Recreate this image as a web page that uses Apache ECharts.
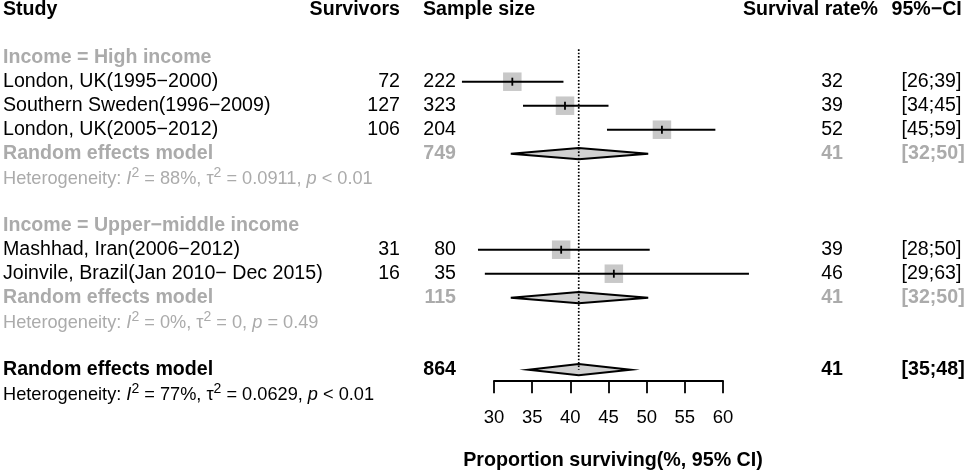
<!DOCTYPE html>
<html><head><meta charset="utf-8">
<script src="https://cdn.jsdelivr.net/npm/echarts@6/dist/echarts.min.js"></script>
<style>html,body{margin:0;padding:0;background:#fff}#c{width:976px;height:474px}</style>
</head><body><div id="c"></div>
<script>
// ---------- data ----------
const headers = ["Study", "Survivors", "Sample size", "Survival rate%", "95%−CI"];
const subgroups = ["Income = High income", "Income = Upper−middle income"];
const studies = ["London, UK(1995−2000)", "Southern Sweden(1996−2009)", "London, UK(2005−2012)",
                 "Mashhad, Iran(2006−2012)", "Joinvile, Brazil(Jan 2010− Dec 2015)"];
const studyGroup = [0, 0, 0, 1, 1];
const survivors = [72, 127, 106, 31, 16];
const sampleSize = [222, 323, 204, 80, 35];
const estimate = [32.4, 39.3, 52.0, 38.8, 45.7];
const lower = [25.8, 33.8, 44.8, 27.9, 28.8];
const upper = [39.1, 45.0, 59.0, 50.4, 63.4];
const modelName = "Random effects model";
const groupN = [749, 115];
const groupEst = [41.1, 41.1];
const groupLower = [32.2, 32.2];
const groupUpper = [50.2, 50.2];
const groupI2 = ["88%", "0%"];
const groupTau2 = ["0.0911", "0"];
const groupP = ["< 0.01", "= 0.49"];
const overallN = 864;
const overallEst = 41.1;
const overallLower = 34.5;
const overallUpper = 47.9;
const overallI2 = "77%";
const overallTau2 = "0.0629";
const overallP = "< 0.01";
const xTicks = [30, 35, 40, 45, 50, 55, 60];
const axisTitle = "Proportion surviving(%, 95% CI)";

// ---------- layout / style ----------
const FONT = '"Liberation Sans", Arial, sans-serif';
const GRAY = '#ababab';
const FS = 19.6, FSH = 18.2;
const X_STUDY = 3, X_SURV = 400, X_SAMPLE = 456, X_RATE = 843, X_CI = 901.5;
const HEAD_POS = [[3, 'left'], [400, 'right'], [423, 'left'], [878, 'right'], [891.5, 'left']];

// build rows
const texts = [];
const studyMarks = [];
const diamondMarks = [];
function fmtCI(lo, hi) { return '[' + Math.round(lo) + ';' + Math.round(hi) + ']'; }
function hetText(i2, t2, p) {
  return '{n|Heterogeneity: }{i|I}{s|2}{n| = ' + i2 + ', τ}{s|2}{n| = ' + t2 + ', }{i|p}{n| ' + p + '}';
}
headers.forEach((h, k) => texts.push({row: -2, x: HEAD_POS[k][0], align: HEAD_POS[k][1], text: h, color: '#000', bold: true}));
let r = 0;
subgroups.forEach((g, gi) => {
  texts.push({row: r, x: X_STUDY, align: 'left', text: g, color: GRAY, bold: true});
  r++;
  studies.forEach((s, i) => {
    if (studyGroup[i] !== gi) return;
    texts.push({row: r, x: X_STUDY, align: 'left', text: s, color: '#000'});
    texts.push({row: r, x: X_SURV, align: 'right', text: String(survivors[i]), color: '#000'});
    texts.push({row: r, x: X_SAMPLE, align: 'right', text: String(sampleSize[i]), color: '#000'});
    texts.push({row: r, x: X_RATE, align: 'right', text: String(Math.round(estimate[i])), color: '#000'});
    texts.push({row: r, x: X_CI, align: 'left', text: fmtCI(lower[i], upper[i]), color: '#000'});
    studyMarks.push([lower[i], upper[i], estimate[i], r]);
    r++;
  });
  texts.push({row: r, x: X_STUDY, align: 'left', text: modelName, color: GRAY, bold: true});
  texts.push({row: r, x: X_SAMPLE, align: 'right', text: String(groupN[gi]), color: GRAY, bold: true});
  texts.push({row: r, x: X_RATE, align: 'right', text: String(Math.round(groupEst[gi])), color: GRAY, bold: true});
  texts.push({row: r, x: X_CI, align: 'left', text: fmtCI(groupLower[gi], groupUpper[gi]), color: GRAY, bold: true});
  diamondMarks.push([groupLower[gi], groupUpper[gi], groupEst[gi], r]);
  r++;
  texts.push({row: r, x: X_STUDY, align: 'left', rich: hetText(groupI2[gi], groupTau2[gi], groupP[gi]), color: GRAY});
  r++;
  r++;
});
const overallRow = r;
texts.push({row: r, x: X_STUDY, align: 'left', text: modelName, color: '#000', bold: true});
texts.push({row: r, x: X_SAMPLE, align: 'right', text: String(overallN), color: '#000', bold: true});
texts.push({row: r, x: X_RATE, align: 'right', text: String(Math.round(overallEst)), color: '#000', bold: true});
texts.push({row: r, x: X_CI, align: 'left', text: fmtCI(overallLower, overallUpper), color: '#000', bold: true});
diamondMarks.push([overallLower, overallUpper, overallEst, r]);
r++;
texts.push({row: r, x: X_STUDY, align: 'left', rich: hetText(overallI2, overallTau2, overallP), color: '#000'});

const ROW0_Y = 57.7, ROW_H = 24, AXIS_Y = 380.7, TOP_ROW = -0.35;
const yMax = (AXIS_Y - ROW0_Y) / ROW_H;

const chart = echarts.init(document.getElementById('c'), null, {renderer: 'canvas'});
chart.setOption({
  animation: false,
  backgroundColor: '#fff',
  grid: {left: 494, right: 976 - 723, top: ROW0_Y + TOP_ROW * ROW_H, bottom: 474 - AXIS_Y, outerBoundsMode: 'none', containLabel: false},
  xAxis: {
    type: 'value', min: xTicks[0], max: xTicks[xTicks.length - 1], interval: xTicks[1] - xTicks[0],
    splitLine: {show: false},
    axisLine: {show: true, onZero: false, lineStyle: {color: '#000', width: 1.8}},
    axisTick: {show: true, inside: false, length: 12.6, lineStyle: {color: '#000', width: 1.8}},
    axisLabel: {color: '#000', fontSize: 18.5, fontFamily: FONT, margin: 28},
    name: axisTitle, nameLocation: 'middle', nameGap: 70,
    nameTextStyle: {color: '#000', fontSize: 19.7, fontWeight: 'bold', fontFamily: FONT, padding: [0, 0, 0, 9]}
  },
  yAxis: {type: 'value', inverse: true, min: TOP_ROW, max: yMax, show: false},
  series: [
    {
      type: 'line', symbol: 'none', silent: true, clip: false,
      data: [[overallEst, TOP_ROW], [overallEst, overallRow]],
      lineStyle: {color: '#000', width: 1.7, type: [1.6, 1.8]}
    },
    {
      type: 'custom', clip: false, silent: true,
      data: studyMarks,
      renderItem(params, api) {
        const row = api.value(3);
        const lo = api.coord([api.value(0), row]);
        const hi = api.coord([api.value(1), row]);
        const c = api.coord([api.value(2), row]);
        const s = 18.5;
        return {type: 'group', children: [
          {type: 'rect', shape: {x: c[0] - s / 2, y: c[1] - s / 2, width: s, height: s}, style: {fill: '#c8c8c8'}},
          {type: 'line', shape: {x1: lo[0], y1: lo[1], x2: hi[0], y2: hi[1]}, style: {stroke: '#000', lineWidth: 1.9}},
          {type: 'line', shape: {x1: c[0], y1: c[1] - 4, x2: c[0], y2: c[1] + 4}, style: {stroke: '#000', lineWidth: 1.8}}
        ]};
      }
    },
    {
      type: 'custom', clip: false, silent: true,
      data: diamondMarks,
      renderItem(params, api) {
        const row = api.value(3);
        const lo = api.coord([api.value(0), row]);
        const hi = api.coord([api.value(1), row]);
        const c = api.coord([api.value(2), row]);
        const h = 5.6;
        return {type: 'polygon', shape: {points: [[lo[0], lo[1]], [c[0], c[1] - h], [hi[0], hi[1]], [c[0], c[1] + h]]},
          style: {fill: '#d0d0d0', stroke: '#000', lineWidth: 2, lineJoin: 'miter'}};
      }
    },
    {
      type: 'custom', clip: false, silent: true,
      data: texts.map((t, i) => [0, t.row, i]),
      renderItem(params, api) {
        const t = texts[api.value(2)];
        const p = api.coord([xTicks[0], t.row]);
        if (t.rich) {
          const base = {fontSize: FSH, fontFamily: FONT, fill: t.color, color: t.color};
          return {type: 'text', x: t.x, y: p[1] + 1, style: {
            text: t.rich, align: t.align, verticalAlign: 'middle', textAlign: t.align, textVerticalAlign: 'middle',
            fontSize: FSH, fontFamily: FONT, fill: t.color,
            rich: {
              n: base,
              i: Object.assign({}, base, {fontStyle: 'italic'}),
              s: Object.assign({}, base, {fontSize: 14, padding: [0, 0, 11, 0]})
            }
          }};
        }
        return {type: 'text', x: t.x, y: p[1], style: {
          text: t.text, align: t.align, verticalAlign: 'middle', textAlign: t.align, textVerticalAlign: 'middle',
          fontSize: FS, fontFamily: FONT, fontWeight: t.bold ? 'bold' : 'normal', fill: t.color
        }};
      }
    }
  ]
});
</script></body></html>
